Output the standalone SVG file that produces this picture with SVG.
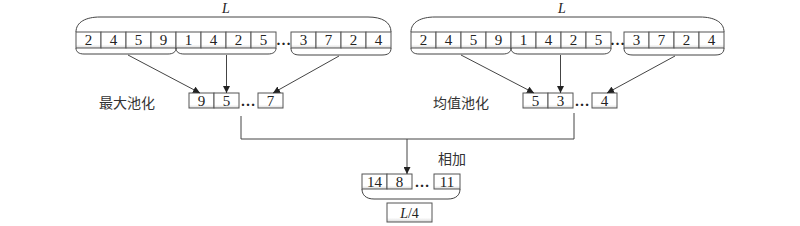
<svg xmlns="http://www.w3.org/2000/svg" width="800" height="226" viewBox="0 0 800 226">
<defs>
<linearGradient id="cellg" x1="0" y1="0" x2="0" y2="1">
<stop offset="0" stop-color="#ffffff"/>
<stop offset="0.78" stop-color="#ffffff"/>
<stop offset="1" stop-color="#d9d9d9"/>
</linearGradient>
<marker id="arr" viewBox="0 0 10 10" refX="10" refY="5" markerWidth="7" markerHeight="7" orient="auto" markerUnits="userSpaceOnUse">
<path d="M0,0 L10,5 L0,10 z" fill="#222"/>
</marker>
<g id="grp4" fill="url(#cellg)" stroke="#555" stroke-width="1">
<rect x="0" y="0" width="25" height="16"/>
<rect x="25" y="0" width="25" height="16"/>
<rect x="50" y="0" width="25" height="16"/>
<rect x="75" y="0" width="25" height="16"/>
</g>
</defs>
<style>
.box{fill:url(#cellg);stroke:#555;stroke-width:1}
.brace{fill:none;stroke:#444;stroke-width:1}
.num{font-family:"Liberation Serif",serif;font-size:15px;fill:#222;text-anchor:middle}
.dots{font-family:"Liberation Serif",serif;font-size:15px;font-weight:bold;fill:#222;text-anchor:middle}
.lab{font-family:"Liberation Serif","Noto Sans CJK SC",serif;font-size:14px;fill:#333;text-anchor:middle}
.it{font-family:"Liberation Serif",serif;font-size:14px;font-style:italic;fill:#222;text-anchor:middle}
.con{fill:none;stroke:#444;stroke-width:1}
</style>
<rect width="800" height="226" fill="#fff"/>

<g id="left-input">
<text class="it" x="226" y="13">L</text>
<path class="brace" d="M76,32 C76,22 86,17 100,17 L368,17 C382,17 391,22 391,32"/>
<g><use href="#grp4" x="76" y="32"/><use href="#grp4" x="176" y="32"/><use href="#grp4" x="291" y="32"/></g>
<text class="num" y="45"><tspan x="88.5">2</tspan><tspan x="113.5">4</tspan><tspan x="138.5">5</tspan><tspan x="163.5">9</tspan><tspan x="188.5">1</tspan><tspan x="213.5">4</tspan><tspan x="238.5">2</tspan><tspan x="263.5">5</tspan><tspan x="303.5">3</tspan><tspan x="328.5">7</tspan><tspan x="353.5">2</tspan><tspan x="378.5">4</tspan></text>
<text class="dots" x="283.5" y="45">…</text>
<path class="brace" d="M76,48 C76,52 79,54 84,54 L168,54 C173,54 176,52 176,48 C176,52 179,54 184,54 L268,54 C273,54 276,52 276,48"/>
<path class="brace" d="M291,48 C291,53 294,55 300,55 L382,55 C388,55 391,53 391,48"/>
</g>

<g id="right-input">
<text class="it" x="562" y="13">L</text>
<path class="brace" d="M411,32 C411,22 421,17 435,17 L700,17 C714,17 724,22 724,32"/>
<g><use href="#grp4" x="411" y="32"/><use href="#grp4" x="511" y="32"/><use href="#grp4" x="624" y="32"/></g>
<text class="num" y="45"><tspan x="423.5">2</tspan><tspan x="448.5">4</tspan><tspan x="473.5">5</tspan><tspan x="498.5">9</tspan><tspan x="523.5">1</tspan><tspan x="548.5">4</tspan><tspan x="573.5">2</tspan><tspan x="598.5">5</tspan><tspan x="636.5">3</tspan><tspan x="661.5">7</tspan><tspan x="686.5">2</tspan><tspan x="711.5">4</tspan></text>
<text class="dots" x="617.5" y="45">…</text>
<path class="brace" d="M411,48 C411,52 414,54 419,54 L503,54 C508,54 511,52 511,48 C511,52 514,54 519,54 L603,54 C608,54 611,52 611,48"/>
<path class="brace" d="M624,48 C624,53 627,55 633,55 L715,55 C721,55 724,53 724,48"/>
</g>

<g id="max-pool">
<text class="lab" x="127" y="108">最大池化</text>
<rect class="box" x="189" y="93" width="25" height="15"/>
<rect class="box" x="214" y="93" width="25" height="15"/>
<rect class="box" x="258" y="93" width="25" height="15"/>
<text class="num" y="105.5"><tspan x="201.5">9</tspan><tspan x="226.5">5</tspan><tspan x="270.5">7</tspan></text>
<text class="dots" x="248" y="105.5">…</text>
</g>

<g id="avg-pool">
<text class="lab" x="461" y="108">均值池化</text>
<rect class="box" x="523" y="93" width="25" height="15"/>
<rect class="box" x="548" y="93" width="25" height="15"/>
<rect class="box" x="592" y="93" width="25" height="15"/>
<text class="num" y="105.5"><tspan x="535.5">5</tspan><tspan x="560.5">3</tspan><tspan x="604.5">4</tspan></text>
<text class="dots" x="582" y="105.5">…</text>
</g>

<g id="sum">
<text class="lab" x="452" y="164">相加</text>
<rect class="box" x="362" y="174" width="25" height="15"/>
<rect class="box" x="387" y="174" width="25" height="15"/>
<rect class="box" x="434" y="174" width="26" height="15"/>
<text class="num" y="186.5"><tspan x="374.5">14</tspan><tspan x="399.5">8</tspan><tspan x="447">11</tspan></text>
<text class="dots" x="422" y="186.5">…</text>
<path class="brace" d="M362,189 C362,195 366,199 374,199 L448,199 C456,199 460,195 460,189"/>
</g>

<g id="size">
<rect class="box" x="387" y="203" width="45" height="19"/>
<text class="it" x="409.5" y="217.5">L<tspan font-style="normal">/4</tspan></text>
</g>

<g id="connectors">
<line class="con" x1="128" y1="55" x2="200" y2="93" marker-end="url(#arr)"/>
<line class="con" x1="226.5" y1="55" x2="226.5" y2="93" marker-end="url(#arr)"/>
<line class="con" x1="339" y1="56" x2="273" y2="93" marker-end="url(#arr)"/>
<line class="con" x1="461" y1="55" x2="534" y2="93" marker-end="url(#arr)"/>
<line class="con" x1="560.5" y1="55" x2="560.5" y2="93" marker-end="url(#arr)"/>
<line class="con" x1="675" y1="56" x2="607" y2="93" marker-end="url(#arr)"/>
<path class="con" d="M241,116 L241,139 L574,139 L574,113"/>
<line class="con" x1="407" y1="139" x2="407" y2="174" marker-end="url(#arr)"/>
</g>
</svg>
